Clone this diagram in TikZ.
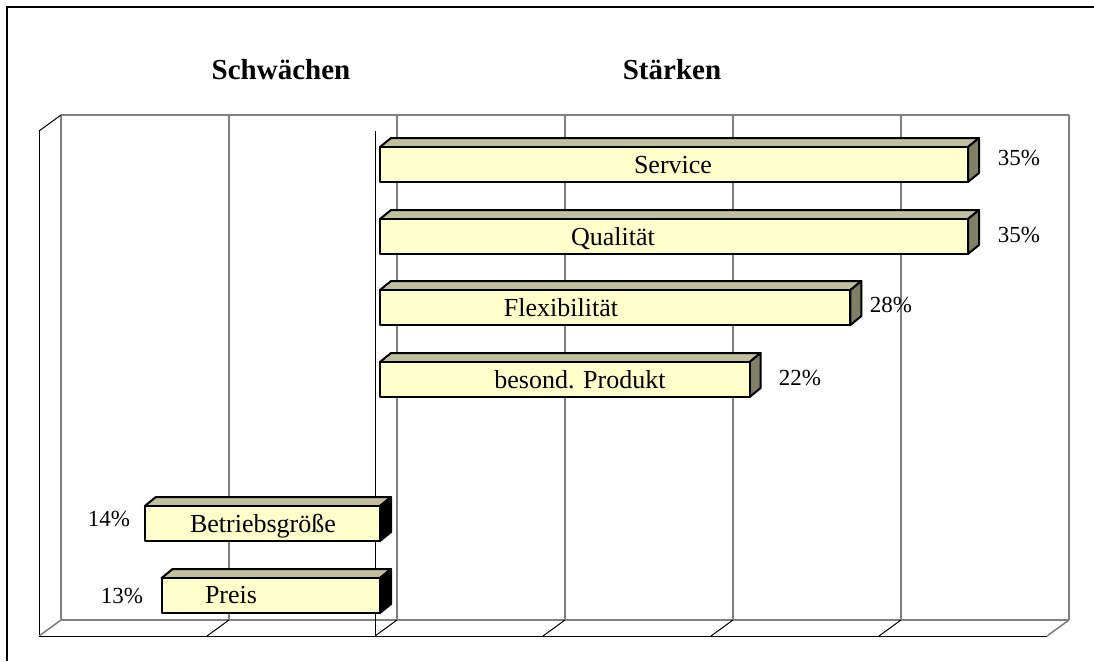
\documentclass[tikz,border=0pt]{standalone}
\usepackage{fontspec}
\setmainfont{Liberation Serif}

\definecolor{barfront}{HTML}{FFFFCC}
\definecolor{bartop}{HTML}{C0C0A0}
\definecolor{barside}{HTML}{808066}
\definecolor{wallgray}{HTML}{808080}

\begin{document}
\begin{tikzpicture}[x=0.5pt, y=-0.5pt,
    wall/.style={draw=wallgray, line width=0.8pt},
    edge/.style={draw=black, line width=0.5pt},
    barface/.style={draw=black, line width=1pt, line join=round},
    barlabel/.style={font=\fontsize{13}{15}\selectfont, anchor=base, inner sep=0pt},
    pctlabel/.style={font=\fontsize{11.5}{14}\selectfont, anchor=base, inner sep=0pt},
    headlabel/.style={font=\fontsize{14.5}{17}\selectfont\bfseries, anchor=base, inner sep=0pt}]

    \useasboundingbox (0,0) rectangle (1094,661);

    % Define chart dimensions (pixels)
    \def\zerox{380} % x of 0%
    \def\pct{16.8} % pixels per percent
    \def\barh{35} % bar height
    \def\bdx{11} % bar depth x
    \def\bdy{9} % bar depth y
    \def\wallx{61} % left of back wall
    \def\walltop{115}
    \def\wallbot{620}
    \def\cellsize{168} % grid spacing (10%)
    \def\wdx{22} % wall depth x
    \def\wdy{16} % wall depth y

    % --- Outer frame ---
    \draw[black, line width=1pt] (7,661) -- (7,7) -- (1094,7);

    % --- Back wall ---
    \foreach \j in {0,...,6} {
        \draw[wall] (\wallx+\j*\cellsize,\walltop) -- (\wallx+\j*\cellsize,\wallbot); % grid lines
    }
    \draw[wall] (\wallx,\walltop) -- (\wallx+6*\cellsize,\walltop); % top edge
    \draw[wall] (\wallx,\wallbot) -- (\wallx+6*\cellsize,\wallbot); % bottom edge

    % --- Side wall and floor ---
    \draw[edge] (\wallx-\wdx,\walltop+\wdy) -- (\wallx,\walltop);
    \draw[edge] (\wallx-\wdx,\walltop+\wdy) -- (\wallx-\wdx,\wallbot+\wdy);
    \draw[wall] (\wallx-\wdx,\wallbot+\wdy) -- (\wallx,\wallbot);
    \draw[edge] (\wallx-\wdx,\wallbot+\wdy) -- (\wallx+6*\cellsize-\wdx,\wallbot+\wdy); % front edge
    \draw[wall] (\wallx+6*\cellsize-\wdx,\wallbot+\wdy) -- (\wallx+6*\cellsize,\wallbot);
    \foreach \j in {1,...,5} {
        \draw[edge] (\wallx+\j*\cellsize,\wallbot) -- ++(-\wdx,\wdy); % floor ticks
    }
    \draw[edge] (375,\walltop+\wdy) -- (375,\wallbot+\wdy); % zero axis

    % --- Staerken (positive bars) ---
    \foreach \val/\ytop in {35/147, 35/219, 28/290, 22/362} {
        \pgfmathsetmacro\xr{\zerox+\val*\pct}
        \filldraw[barface, fill=bartop] (\zerox,\ytop) -- ++(\bdx,-\bdy) -- (\xr+\bdx,\ytop-\bdy) -- (\xr,\ytop) -- cycle; % top face
        \filldraw[barface, fill=barside] (\xr,\ytop) -- (\xr+\bdx,\ytop-\bdy) -- (\xr+\bdx,\ytop+\barh-\bdy) -- (\xr,\ytop+\barh) -- cycle; % side face
        \filldraw[barface, fill=barfront] (\zerox,\ytop) rectangle (\xr,\ytop+\barh); % front face
    }

    % --- Schwaechen (negative bars) ---
    \foreach \val/\ytop in {14/506, 13/578} {
        \pgfmathsetmacro\xl{\zerox-\val*\pct}
        \filldraw[barface, fill=bartop] (\xl,\ytop) -- ++(\bdx,-\bdy) -- (\zerox+\bdx,\ytop-\bdy) -- (\zerox,\ytop) -- cycle; % top face
        \filldraw[barface, fill=black] (\zerox,\ytop) -- (\zerox+\bdx,\ytop-\bdy) -- (\zerox+\bdx,\ytop+\barh-\bdy) -- (\zerox,\ytop+\barh) -- cycle; % side face
        \filldraw[barface, fill=barfront] (\xl,\ytop) rectangle (\zerox,\ytop+\barh); % front face
    }

    % Headings
    \node[headlabel] (weak) at (281,79) {Schwächen};
    \node[headlabel] (strong) at (672,79) {Stärken};

    % Bar labels
    \node[barlabel] (service) at (673,173) {Service};
    \node[barlabel] (quality) at (613,245) {Qualität};
    \node[barlabel] (flex) at (561,316) {Flexibilität};
    \node[barlabel] (product) at (580,388) {besond. Produkt};
    \node[barlabel] (size) at (263,532) {Betriebsgröße};
    \node[barlabel] (price) at (231,603) {Preis};

    % Percentages
    \node[pctlabel] (pct-service) at (1019,165) {35\%};
    \node[pctlabel] (pct-quality) at (1019,242) {35\%};
    \node[pctlabel] (pct-flex) at (891,312) {28\%};
    \node[pctlabel] (pct-product) at (800,385) {22\%};
    \node[pctlabel] (pct-size) at (109,526) {14\%};
    \node[pctlabel] (pct-price) at (122,603) {13\%};

\end{tikzpicture}
\end{document}
